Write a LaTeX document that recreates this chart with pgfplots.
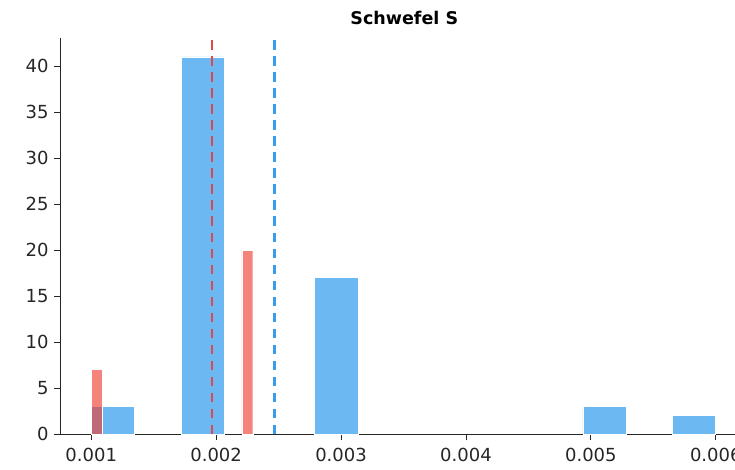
\documentclass[border=0pt]{standalone}
\usepackage{pgfplots}
\pgfplotsset{compat=1.18}
\usepackage{fontspec}
\setmainfont{DejaVu Sans}
\definecolor{bluebar}{HTML}{6CB8F2}
\definecolor{redbar}{HTML}{EE4035}
\definecolor{redline}{HTML}{E04848}
\definecolor{blueline}{HTML}{3A9CEC}
\definecolor{spine}{HTML}{262626}
\begin{document}
\begin{tikzpicture}[x=1pt,y=1pt]
\begin{axis}[
  at={(60pt,35pt)}, anchor=south west,
  scale only axis, width=688.6pt, height=396pt,
  xmin=0.75, xmax=6.263, ymin=0, ymax=43.05,
  axis lines=left, axis line style={-, spine, line width=1pt},
  xtick={1,2,3,4,5,6},
  xticklabels={0.001,0.002,0.003,0.004,0.005,0.006},
  ytick={0,5,...,40},
  tick align=outside, major tick length=6pt,
  tick style={spine, line width=0.9pt},
  ticklabel style={font=\fontsize{18}{20}\selectfont, text=spine},
  xticklabel style={yshift=-5pt},
  yticklabel style={xshift=-2pt},
  /pgf/number format/assume math mode=true,
  title={\textbf{Schwefel S}},
  title style={font=\fontsize{17.5}{20}\selectfont, at={(0.5,1)}, anchor=base, yshift=7pt},
  clip=false,
]
% blue histogram (x in units of 0.001)
\addplot[ybar, bar width=0.346, bar shift=0pt, fill=bluebar, draw=white, line width=0.6pt]
  coordinates {(1.175,3) (1.894,41) (2.962,17) (5.110,3) (5.826,2)};
% red histogram
\addplot[ybar, bar width=0.086, bar shift=0pt, fill=redbar, fill opacity=0.65, draw=white, line width=0.4pt]
  coordinates {(1.044,7) (2.250,20)};
% mean lines
\addplot[redline, line width=2.6pt, dash pattern=on 9.5pt off 6.5pt] coordinates {(1.966,0) (1.966,43.05)};
\addplot[blueline, line width=2.6pt, dash pattern=on 9.5pt off 6.5pt] coordinates {(2.466,0) (2.466,43.05)};
\end{axis}
\pgfresetboundingbox
\path[use as bounding box] (0,0) rectangle (735,469);
\end{tikzpicture}
\end{document}
